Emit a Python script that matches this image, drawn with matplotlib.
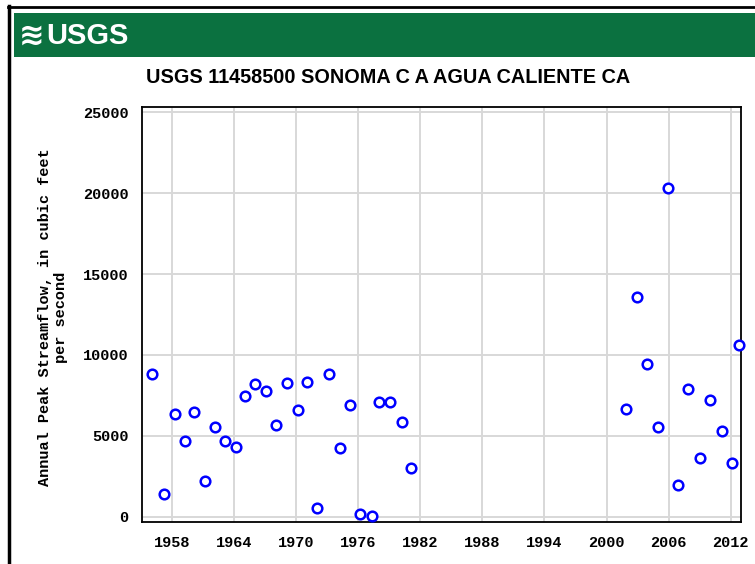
import matplotlib
matplotlib.use("Agg")
import matplotlib.pyplot as plt
from matplotlib import font_manager
from matplotlib.patches import Rectangle
from matplotlib.lines import Line2D

# ---- data (peak dates as decimal years, peak flow in cfs) ----
peak_dates = [1956.13, 1957.26, 1958.29, 1959.31, 1960.18, 1961.22, 1962.21,
              1963.18, 1964.21, 1965.08, 1966.07, 1967.08, 1968.07, 1969.11,
              1970.17, 1971.04, 1972.06, 1973.16, 1974.25, 1975.25, 1976.16,
              1977.32, 1978.05, 1979.11, 1980.21, 1981.11,
              2001.85, 2002.97, 2003.93, 2004.97, 2005.96, 2006.87, 2007.86,
              2008.99, 2010.02, 2011.15, 2012.14, 2012.79]
peak_flow = [8840, 1420, 6350, 4660, 6490, 2230, 5530,
             4660, 4330, 7460, 8210, 7790, 5690, 8290,
             6580, 8350, 540, 8840, 4250, 6910, 150,
             50, 7070, 7070, 5880, 3030,
             6660, 13600, 9420, 5530, 20350, 1980, 7880,
             3610, 7220, 5320, 3340, 10620]
x_ticks = [1958, 1964, 1970, 1976, 1982, 1988, 1994, 2000, 2006, 2012]
y_ticks = [0, 5000, 10000, 15000, 20000, 25000]
title = "USGS 11458500 SONOMA C A AGUA CALIENTE CA"
ylabel = "Annual Peak Streamflow, in cubic feet\nper second"

avail = {f.name for f in font_manager.fontManager.ttflist}
narrow = "Liberation Sans Narrow" if "Liberation Sans Narrow" in avail else "Liberation Sans"
mono = "Liberation Mono" if "Liberation Mono" in avail else "DejaVu Sans Mono"

W, H = 755, 564
fig = plt.figure(figsize=(W / 100, H / 100), dpi=100)
fig.patch.set_facecolor("white")

def fx(px):
    return px / W

def fy(py):
    return 1 - py / H

# outer frame lines (left & top)
fig.add_artist(Line2D([fx(9), fx(9)], [fy(6), 0], color="black", lw=2.5,
                      transform=fig.transFigure))
fig.add_artist(Line2D([fx(8), 1], [fy(7), fy(7)], color="black", lw=2.0,
                      transform=fig.transFigure))
# green banner
fig.add_artist(Rectangle((fx(14), fy(57)), 1 - fx(14), (57 - 13) / H,
                         transform=fig.transFigure, facecolor="#0b7140",
                         edgecolor="none"))
fig.text(fx(19), fy(36), "\u224B", color="white", fontsize=22,
         fontweight="bold", ha="left", va="center", family="DejaVu Sans")
fig.text(fx(46), fy(35.5), "USGS", color="white", fontsize=21,
         fontweight="bold", ha="left", va="center", family=narrow)

# title
fig.text(fx(388), fy(77), title, fontsize=14.3, fontweight="bold",
         ha="center", va="center", family=narrow)

ax = fig.add_axes([fx(142.3), fy(522.3), fx(741) - fx(142.3),
                   (522.3 - 106.7) / H])
ax.scatter(peak_dates, peak_flow, s=48, facecolors="white",
           edgecolors="#0000ff", linewidths=1.8, zorder=3, clip_on=False)
ax.set_xlim(1955.16, 2012.98)
ax.set_ylim(-350, 25350)
ax.set_xticks(x_ticks)
ax.set_yticks(y_ticks)
ax.set_xticklabels([str(t) for t in x_ticks])
ax.set_yticklabels([str(t) for t in y_ticks])
ax.grid(True, color="#d8d8d8", lw=1.4)
ax.set_axisbelow(True)
ax.tick_params(length=0, pad=10)
for lab in ax.get_xticklabels() + ax.get_yticklabels():
    lab.set_family(mono)
    lab.set_fontweight("bold")
    lab.set_fontsize(11)
for sp in ax.spines.values():
    sp.set_linewidth(1.3)
    sp.set_color("black")

fig.text(fx(53), fy(317), ylabel, rotation=90, ha="center", va="center",
         fontsize=11, fontweight="bold", family=mono, multialignment="center",
         linespacing=1.1)

fig.savefig("out.png", dpi=100, facecolor="white")
